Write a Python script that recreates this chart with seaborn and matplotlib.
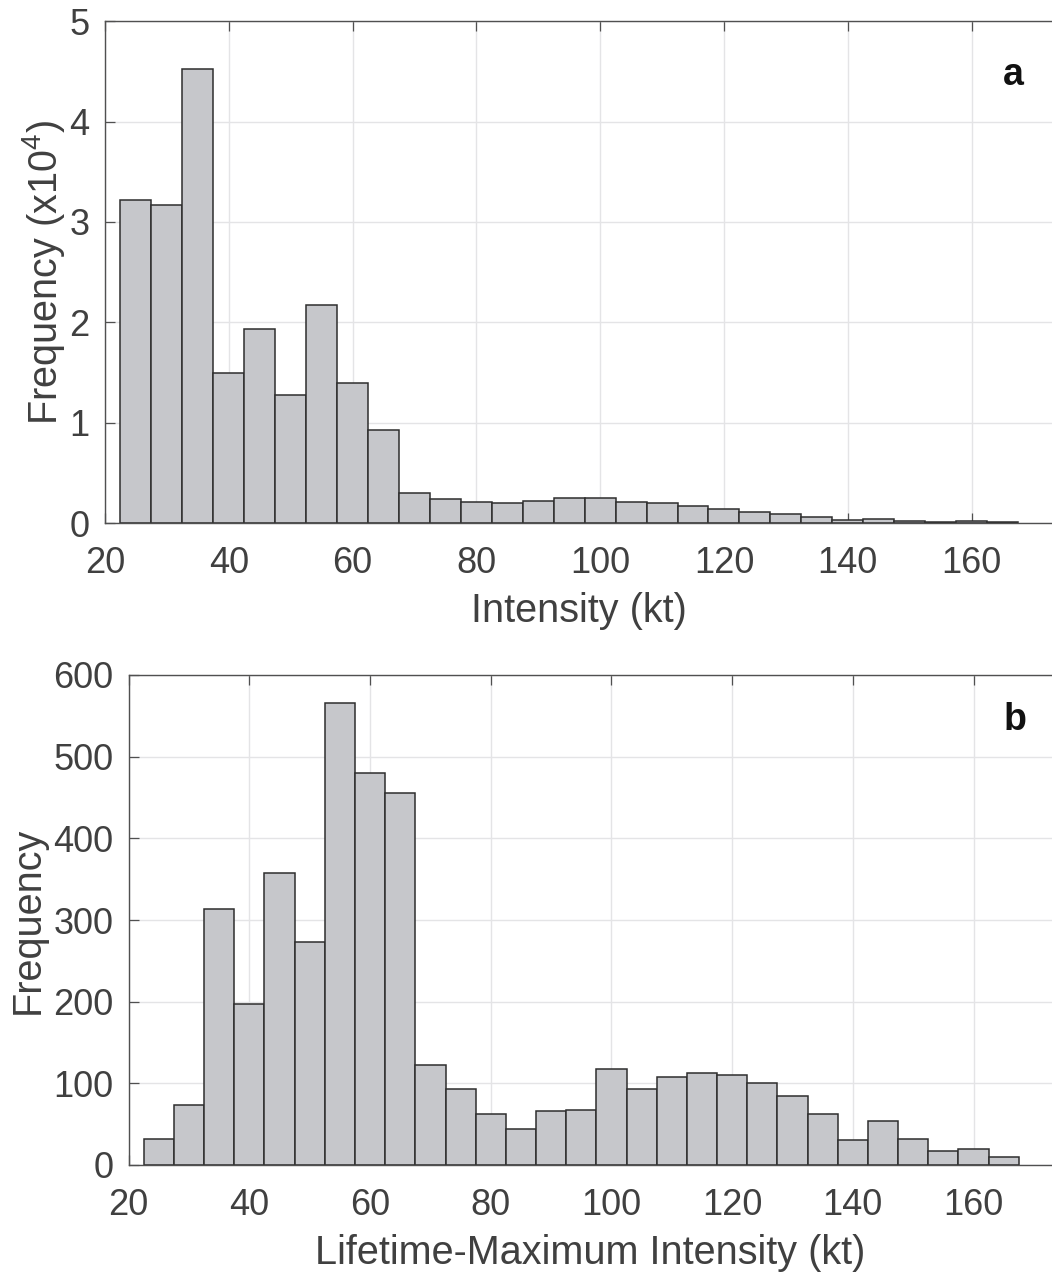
import numpy as np
import pandas as pd
import matplotlib
matplotlib.use("Agg")
import matplotlib.pyplot as plt
import seaborn as sns

# Bin layout shared by both histograms (5-kt bins)
bin_start, bin_stop, bin_width = 22.5, 167.5, 5.0
bin_centers = np.arange(bin_start + bin_width / 2, bin_stop, bin_width)

# (a) all track-point intensities, in units of 10^4
all_intensity_freq = [
    3.22, 3.17, 4.52, 1.49, 1.93, 1.28, 2.17, 1.40, 0.93, 0.30,
    0.24, 0.21, 0.20, 0.22, 0.25, 0.25, 0.21, 0.20, 0.17, 0.14,
    0.11, 0.09, 0.06, 0.03, 0.04, 0.023, 0.013, 0.016, 0.013,
]

# (b) lifetime-maximum intensity counts
lmi_freq = [
    32, 74, 314, 197, 357, 273, 566, 480, 455, 123,
    93, 62, 44, 66, 67, 118, 93, 108, 113, 110,
    101, 85, 63, 31, 54, 32, 17, 19, 10,
]

x_ticks = [20, 40, 60, 80, 100, 120, 140, 160]
y_ticks_a = [0, 1, 2, 3, 4, 5]
y_ticks_b = [0, 100, 200, 300, 400, 500, 600]

sns.set_theme(style="white")
plt.rcParams["font.family"] = ["Liberation Sans", "DejaVu Sans"]
plt.rcParams["mathtext.default"] = "regular"

TEXT = "#404040"
SPINE = "#505050"
GRID = "#e4e4e6"
FILL = "#c6c7cb"
EDGE = "#2e2e2e"

fig = plt.figure(figsize=(10.52, 12.72), dpi=100)
W, H = 1052, 1272

def px_axes(left, top, right, bottom):
    return fig.add_axes([left / W, 1 - bottom / H, (right - left) / W, (bottom - top) / H])

ax_a = px_axes(105, 21.3, 1052, 523)
ax_b = px_axes(128.7, 675, 1052, 1165)

df_a = pd.DataFrame({"kt": bin_centers, "freq": all_intensity_freq})
df_b = pd.DataFrame({"kt": bin_centers, "freq": lmi_freq})

for ax, df in [(ax_a, df_a), (ax_b, df_b)]:
    sns.histplot(data=df, x="kt", weights="freq", binwidth=bin_width,
                 binrange=(bin_start, bin_stop), ax=ax,
                 color=FILL, edgecolor=EDGE, linewidth=1.1, alpha=1.0)

def style(ax, yticks, ylabel, xlabel, letter, ylab_x, xlab_y, letter_xy):
    ax.set_axisbelow(True)
    ax.set_xlim(20, 173)
    ax.set_ylim(yticks[0], yticks[-1])
    ax.set_xticks(x_ticks)
    ax.set_yticks(yticks)
    ax.grid(True, color=GRID, linewidth=1.0)
    for side in ["left", "top", "bottom"]:
        ax.spines[side].set_visible(True)
        ax.spines[side].set_color(SPINE)
        ax.spines[side].set_linewidth(1.0)
    ax.spines["right"].set_visible(False)
    ax.tick_params(axis="both", which="major", direction="in", length=7,
                   width=0.9, color=SPINE, labelsize=26, labelcolor=TEXT)
    ax.tick_params(axis="x", top=True, bottom=True, pad=16.5)
    ax.tick_params(axis="y", left=True, pad=11)
    ax.set_xlabel(xlabel, fontsize=28.5, color=TEXT)
    ax.set_ylabel(ylabel, fontsize=28.5, color=TEXT)
    ax.xaxis.set_label_coords(0.5, xlab_y)
    ax.yaxis.set_label_coords(ylab_x, 0.5)
    ax.text(letter_xy[0], letter_xy[1], letter, transform=ax.transAxes,
            fontsize=27, fontweight="bold", color="#111111",
            ha="center", va="center")

style(ax_a, y_ticks_a, "Frequency (x10$^{4}$)", "Intensity (kt)", "a",
      -0.040, -0.137, (0.959, 0.893))
style(ax_b, y_ticks_b, "Frequency", "Lifetime-Maximum Intensity (kt)", "b",
      -0.089, -0.140, (0.960, 0.908))

fig.savefig("out.png", dpi=100)
